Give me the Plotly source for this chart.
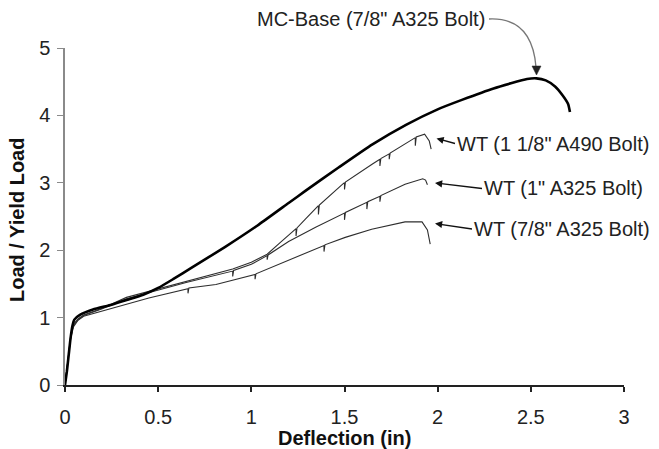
import plotly.graph_objects as go

# ---------------- data ----------------
mc_x = [0, 0.01, 0.02, 0.03, 0.04, 0.05, 0.08, 0.15, 0.25, 0.33, 0.42, 0.50, 0.58, 0.68,
        0.86, 1.04, 1.20, 1.29, 1.47, 1.65, 1.83, 2.00, 2.13, 2.30, 2.48, 2.53, 2.58,
        2.63, 2.67, 2.70, 2.71]
mc_y = [0, 0.2, 0.45, 0.7, 0.88, 0.97, 1.04, 1.12, 1.19, 1.26, 1.34, 1.44, 1.57, 1.74,
        2.05, 2.38, 2.70, 2.88, 3.23, 3.57, 3.86, 4.09, 4.23, 4.40, 4.54, 4.55, 4.52,
        4.43, 4.30, 4.17, 4.05]

a490_x = [0, 0.01, 0.02, 0.03, 0.045, 0.07, 0.1, 0.2, 0.33, 0.45, 0.65, 0.9, 1.0, 1.085,
          1.15, 1.24, 1.24, 1.245, 1.29, 1.36, 1.36, 1.365, 1.49, 1.50, 1.50, 1.505,
          1.65, 1.69, 1.69, 1.695, 1.74, 1.74, 1.745, 1.88, 1.88, 1.885, 1.93, 1.955, 1.965]
a490_y = [0, 0.25, 0.5, 0.72, 0.9, 0.98, 1.04, 1.14, 1.30, 1.39, 1.54, 1.72, 1.82, 1.94,
          2.10, 2.32, 2.21, 2.33, 2.46, 2.66, 2.53, 2.67, 2.98, 3.00, 2.90, 3.01,
          3.28, 3.35, 3.25, 3.36, 3.43, 3.35, 3.44, 3.67, 3.55, 3.68, 3.72, 3.62, 3.50]

a325_1_x = [0, 0.01, 0.02, 0.03, 0.045, 0.07, 0.1, 0.2, 0.33, 0.45, 0.65, 0.9, 0.9, 0.905,
            1.0, 1.085, 1.085, 1.09, 1.2, 1.345, 1.50, 1.50, 1.505, 1.62, 1.62, 1.625,
            1.69, 1.69, 1.695, 1.825, 1.92, 1.935, 1.945]
a325_1_y = [0, 0.24, 0.48, 0.7, 0.88, 0.97, 1.03, 1.13, 1.28, 1.37, 1.52, 1.69, 1.61, 1.70,
            1.79, 1.92, 1.86, 1.93, 2.13, 2.34, 2.55, 2.45, 2.56, 2.71, 2.61, 2.72,
            2.80, 2.72, 2.81, 2.98, 3.06, 3.04, 2.97]

a325_78_x = [0, 0.01, 0.02, 0.03, 0.045, 0.07, 0.1, 0.2, 0.3, 0.45, 0.66, 0.66, 0.665,
             0.81, 1.02, 1.02, 1.025, 1.165, 1.29, 1.39, 1.39, 1.395, 1.504, 1.646,
             1.825, 1.916, 1.945, 1.96]
a325_78_y = [0, 0.23, 0.46, 0.68, 0.86, 0.96, 1.02, 1.10, 1.18, 1.29, 1.43, 1.36, 1.44,
             1.49, 1.64, 1.57, 1.65, 1.81, 1.96, 2.07, 1.98, 2.08, 2.19, 2.31,
             2.42, 2.42, 2.30, 2.09]

x_ticks = [0, 0.5, 1, 1.5, 2, 2.5, 3]
x_tick_labels = ["0", "0.5", "1", "1.5", "2", "2.5", "3"]
y_ticks = [0, 1, 2, 3, 4, 5]
y_tick_labels = ["0", "1", "2", "3", "4", "5"]

labels = ['MC-Base (7/8" A325 Bolt)', 'WT (1 1/8" A490 Bolt)',
          'WT (1" A325 Bolt)', 'WT (7/8" A325 Bolt)']

# ---------------- layout geometry ----------------
W, H = 659, 449
L, R, T, B = 65, 624, 48, 385
FONT = "Arial, Liberation Sans, sans-serif"


def px(xp):
    return (xp - L) / (R - L)


def py(yp):
    return (B - yp) / (B - T)


fig = go.Figure()
for xs, ys, w, c, shp in [(a325_78_x, a325_78_y, 1.1, "#2e2e2e", "linear"),
                          (a325_1_x, a325_1_y, 1.1, "#2e2e2e", "linear"),
                          (a490_x, a490_y, 1.1, "#2e2e2e", "linear"),
                          (mc_x, mc_y, 2.6, "#000000", "spline")]:
    fig.add_trace(go.Scatter(x=xs, y=ys, mode="lines",
                             line=dict(color=c, width=w, shape=shp, smoothing=0.5),
                             showlegend=False, hoverinfo="skip"))

annotations = []
# axis titles
annotations.append(dict(text="<b>Deflection (in)</b>", xref="paper", yref="paper",
                        x=0.5, y=py(438), xanchor="center", yanchor="middle",
                        showarrow=False, font=dict(size=20, color="#111", family=FONT)))
annotations.append(dict(text="<b>Load / Yield Load</b>", xref="paper", yref="paper",
                        x=px(17), y=py(220), xanchor="center", yanchor="middle",
                        textangle=-90, showarrow=False,
                        font=dict(size=20, color="#111", family=FONT)))
# MC-Base label
annotations.append(dict(text=labels[0], xref="paper", yref="paper",
                        x=px(487), y=py(19), xanchor="right", yanchor="middle",
                        showarrow=False, font=dict(size=20, color="#222", family=FONT)))
# WT labels with arrows
for txt, tip, tail in [(labels[1], (436.5, 138.5), (455, 143.5)),
                       (labels[2], (435, 183), (482, 188.5)),
                       (labels[3], (435, 223.5), (472, 229))]:
    annotations.append(dict(text=txt, xref="paper", yref="paper",
                            x=px(tip[0]), y=py(tip[1]),
                            ax=tail[0] - tip[0], ay=tail[1] - tip[1],
                            xanchor="left", yanchor="middle",
                            showarrow=True, arrowhead=2, arrowsize=1.1,
                            arrowwidth=1.3, arrowcolor="#111",
                            font=dict(size=20, color="#222", family=FONT)))

shapes = [
    # curved arrow for MC-Base
    dict(type="path", xref="paper", yref="paper",
         path=f"M {px(489)} {py(19)} Q {px(532)} {py(17)} {px(536)} {py(67)}",
         line=dict(color="#777", width=1.3)),
    dict(type="path", xref="paper", yref="paper",
         path=f"M {px(536.5)} {py(75)} L {px(532)} {py(66)} L {px(541)} {py(66)} Z",
         line=dict(color="#222", width=0.5), fillcolor="#222"),
]

fig.update_layout(
    width=W, height=H,
    margin=dict(l=L, r=W - R, t=T, b=H - B, pad=0),
    paper_bgcolor="white", plot_bgcolor="white",
    font=dict(family=FONT, size=20, color="#222"),
    annotations=annotations, shapes=shapes,
    xaxis=dict(range=[0, 3], tickvals=x_ticks, ticktext=x_tick_labels,
               showgrid=False, zeroline=False, showline=True,
               linecolor="#222", linewidth=2, ticks="outside", ticklen=5,
               tickwidth=2, tickcolor="#222", ticklabelstandoff=8,
               tickfont=dict(size=20, color="#222")),
    yaxis=dict(range=[0, 5], tickvals=y_ticks, ticktext=y_tick_labels,
               showgrid=False, zeroline=False, showline=True,
               linecolor="#8a8a8a", linewidth=1.5, ticks="outside", ticklen=6,
               tickwidth=1.2, tickcolor="#8a8a8a", ticklabelstandoff=3,
               tickfont=dict(size=20, color="#222")),
)

fig.write_html("out.html",
               config={"displayModeBar": False, "displaylogo": False},
               post_script="document.body.style.margin='0';"
                           "document.body.style.overflow='hidden';")
